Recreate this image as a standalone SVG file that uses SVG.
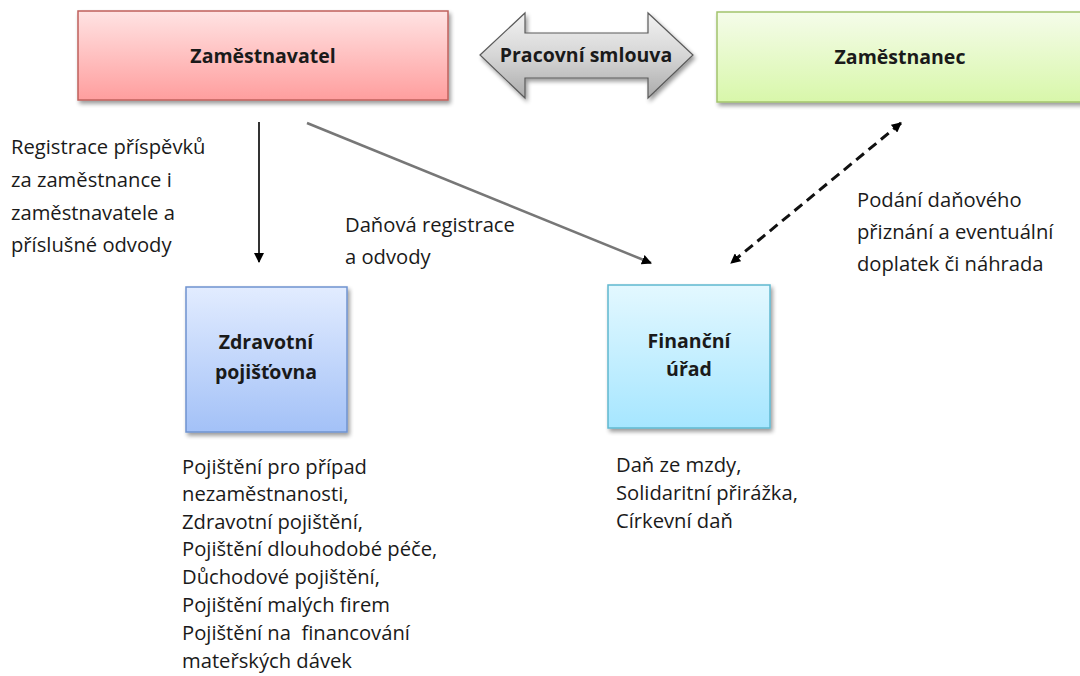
<svg xmlns="http://www.w3.org/2000/svg" width="1080" height="676" viewBox="0 0 1080 676">
<defs>
<linearGradient id="gRed" x1="0" y1="0" x2="0" y2="1"><stop offset="0" stop-color="#FFE3E3"/><stop offset="1" stop-color="#FF9E9E"/></linearGradient>
<linearGradient id="gGreen" x1="0" y1="0" x2="0" y2="1"><stop offset="0" stop-color="#F5FCEA"/><stop offset="1" stop-color="#D8F7AA"/></linearGradient>
<linearGradient id="gBlue" x1="0" y1="0" x2="0" y2="1"><stop offset="0" stop-color="#E2ECFF"/><stop offset="1" stop-color="#A3C1F7"/></linearGradient>
<linearGradient id="gCyan" x1="0" y1="0" x2="0" y2="1"><stop offset="0" stop-color="#E3F8FF"/><stop offset="1" stop-color="#A6E6FF"/></linearGradient>
<linearGradient id="gGray" x1="0" y1="0" x2="0" y2="1"><stop offset="0" stop-color="#F2F2F2"/><stop offset="0.5" stop-color="#D6D6D6"/><stop offset="1" stop-color="#ABABAB"/></linearGradient>
<filter id="sh" x="-10%" y="-10%" width="130%" height="140%"><feGaussianBlur in="SourceAlpha" stdDeviation="2"/><feOffset dx="2" dy="3"/><feComponentTransfer><feFuncA type="linear" slope="0.4"/></feComponentTransfer><feMerge><feMergeNode/><feMergeNode in="SourceGraphic"/></feMerge></filter>
<marker id="ah" markerWidth="10" markerHeight="10" refX="9" refY="5" orient="auto" markerUnits="userSpaceOnUse"><path d="M0,0 L10,5 L0,10 z" fill="#000"/></marker>
<marker id="ahs" markerWidth="10" markerHeight="10" refX="1" refY="5" orient="auto" markerUnits="userSpaceOnUse"><path d="M10,0 L0,5 L10,10 z" fill="#000"/></marker>
<style>
.t{font-family:"Open Sans","Liberation Sans",sans-serif;font-size:20.2px;fill:#1a1a1a}
.b{font-family:"Open Sans","Liberation Sans",sans-serif;font-size:19.5px;font-weight:bold;fill:#1a1a1a;text-anchor:middle}
</style>
</defs>
<rect width="1080" height="676" fill="#fff"/>
<g id="zamestnavatel">
<rect x="78" y="11" width="370" height="89" fill="url(#gRed)" stroke="#C0605C" stroke-width="1.5" filter="url(#sh)"/>
<text class="b" x="263" y="63">Zaměstnavatel</text>
</g>
<g id="pracovni-smlouva">
<path d="M480,55 L525,13 L525,33 L648,33 L648,13 L693,55 L648,98 L648,78 L525,78 L525,98 Z" fill="url(#gGray)" stroke="#5a5a5a" stroke-width="1.2" filter="url(#sh)"/>
<text class="b" x="586" y="62">Pracovní smlouva</text>
</g>
<g id="zamestnanec">
<rect x="717" y="12" width="370" height="90" fill="url(#gGreen)" stroke="#A3C46C" stroke-width="1.5" filter="url(#sh)"/>
<text class="b" x="900" y="64">Zaměstnanec</text>
</g>
<g id="zdravotni-pojistovna">
<rect x="186" y="287" width="161" height="145" fill="url(#gBlue)" stroke="#6F93CF" stroke-width="1.5" filter="url(#sh)"/>
<text class="b" x="266" y="349">Zdravotní</text>
<text class="b" x="266" y="379">pojišťovna</text>
</g>
<g id="financni-urad">
<rect x="608" y="285" width="162" height="143" fill="url(#gCyan)" stroke="#5FB8D0" stroke-width="1.5" filter="url(#sh)"/>
<text class="b" x="689" y="348">Finanční</text>
<text class="b" x="689" y="376">úřad</text>
</g>
<g id="connectors">
<line x1="259" y1="122" x2="259" y2="262" stroke="#333" stroke-width="2" marker-end="url(#ah)"/>
<line x1="307" y1="123" x2="651" y2="263" stroke="#777" stroke-width="2.5" marker-end="url(#ah)"/>
<line x1="901" y1="123" x2="731" y2="263" stroke="#111" stroke-width="3" stroke-dasharray="10,6" marker-start="url(#ahs)" marker-end="url(#ah)"/>
</g>
<g id="labels">
<text class="t" x="11" y="154">Registrace příspěvků</text>
<text class="t" x="11" y="187">za zaměstnance i</text>
<text class="t" x="11" y="220">zaměstnavatele a</text>
<text class="t" x="11" y="252">příslušné odvody</text>
<text class="t" x="345" y="232">Daňová registrace</text>
<text class="t" x="345" y="264">a odvody</text>
<text class="t" x="857" y="207">Podání daňového</text>
<text class="t" x="857" y="239">přiznání a eventuální</text>
<text class="t" x="857" y="271">doplatek či náhrada</text>
<text class="t" x="182" y="474">Pojištění pro případ</text>
<text class="t" x="182" y="501">nezaměstnanosti,</text>
<text class="t" x="182" y="529">Zdravotní pojištění,</text>
<text class="t" x="182" y="556">Pojištění dlouhodobé péče,</text>
<text class="t" x="182" y="584">Důchodové pojištění,</text>
<text class="t" x="182" y="612">Pojištění malých firem</text>
<text class="t" x="182" y="640" xml:space="preserve">Pojištění na  financování</text>
<text class="t" x="182" y="668">mateřských dávek</text>
<text class="t" x="616" y="472">Daň ze mzdy,</text>
<text class="t" x="616" y="500">Solidaritní přirážka,</text>
<text class="t" x="616" y="528">Církevní daň</text>
</g>
</svg>
